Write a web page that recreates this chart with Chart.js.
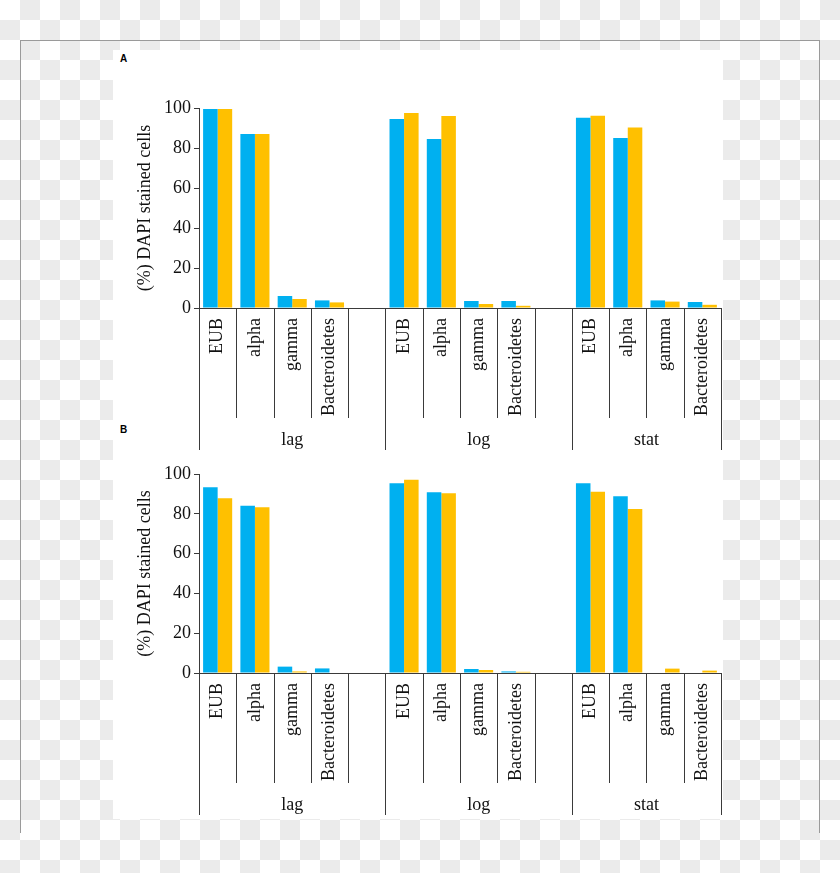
<!DOCTYPE html>
<html><head><meta charset="utf-8">
<script src="https://cdn.jsdelivr.net/npm/chart.js@4.4.1/dist/chart.umd.min.js"></script>
<style>
html,body{margin:0;padding:0;width:840px;height:873px;overflow:hidden;}
body{background-color:#fff;background-image:conic-gradient(#ebebeb 0 25%,#fff 0 50%,#ebebeb 0 75%,#fff 0);background-size:40px 40px;position:relative;}
#frame{position:absolute;left:20px;top:40px;width:798px;height:792px;border:1px solid #9a9a9a;border-bottom:none;}
#sheet{position:absolute;left:113px;top:50px;width:610px;height:769px;background:#fff;}
canvas{position:absolute;left:113px;}
.tag{position:absolute;font:bold 10px 'Liberation Sans',Arial,sans-serif;color:#000;}
</style></head>
<body>
<div id="frame"></div>
<div id="sheet"></div>
<div class="tag" style="left:120px;top:53px;">A</div>
<div class="tag" style="left:120px;top:424px;">B</div>
<canvas id="chartA" width="621" height="410" style="top:50px"></canvas>
<canvas id="chartB" width="621" height="400" style="top:420px"></canvas>
<script>
// ---- data ----
const groups = ['lag', 'log', 'stat'];
const taxa = ['EUB', 'alpha', 'gamma', 'Bacteroidetes'];
const yTicks = [0, 20, 40, 60, 80, 100];
const yTitle = '(%) DAPI stained cells';
// panel A (order: lag EUB, alpha, gamma, Bacteroidetes, log ..., stat ...)
const aBlue   = [99.5, 87.0, 6.0, 3.8, 94.5, 84.5, 3.5, 3.5, 95.1, 85.0, 3.8, 3.0];
const aYellow = [99.5, 87.0, 4.5, 2.8, 97.5, 96.0, 2.0, 1.1, 96.1, 90.3, 3.2, 1.6];
// panel B
const bBlue   = [93.3, 84.1, 3.2, 2.3, 95.3, 90.8, 2.0, 0.8, 95.3, 88.8, 0.0, 0.0];
const bYellow = [87.8, 83.3, 0.8, 0.0, 97.1, 90.3, 1.5, 0.6, 91.1, 82.4, 2.2, 1.2];

// ---- build category axis with blank separator slots ----
const categories = [];
const groupRanges = [];
groups.forEach((g, gi) => {
  const start = categories.length;
  taxa.forEach(t => categories.push(t));
  if (gi < groups.length - 1) categories.push('');
  groupRanges.push({label: g, start: start, end: categories.length - 1});
});
function expand(values) {
  const out = [];
  let k = 0;
  categories.forEach(c => { if (c === '') out.push(null); else out.push(values[k++]); });
  return out;
}

const AXIS = '#3a3a3a';
const TEXT = '#111';
const FONT = "'Liberation Serif','Times New Roman',serif";

const multiLevel = {
  id: 'multiLevel',
  afterDraw(chart) {
    const xs = chart.scales.x;
    const ctx = chart.ctx;
    const top = xs.top;
    const longStarts = new Set();
    groupRanges.forEach(r => { longStarts.add(r.start); });
    const lastEnd = categories.length;
    ctx.save();
    ctx.strokeStyle = AXIS;
    ctx.lineWidth = 1;
    for (let b = 0; b <= lastEnd; b++) {
      const px = Math.round(xs.getPixelForValue(b - 0.5)) + 0.5;
      const isLong = longStarts.has(b) || b === lastEnd;
      const len = isLong ? 142 : 110;
      ctx.beginPath();
      ctx.moveTo(px, top);
      ctx.lineTo(px, top + len);
      ctx.stroke();
    }
    ctx.fillStyle = TEXT;
    ctx.font = "18px " + FONT;
    ctx.textAlign = 'center';
    ctx.textBaseline = 'middle';
    groupRanges.forEach(r => {
      const x0 = xs.getPixelForValue(r.start - 0.5);
      const x1 = xs.getPixelForValue(r.end + 0.5);
      ctx.fillText(r.label, (x0 + x1) / 2, top + 132);
    });
    ctx.restore();
  }
};

function makeChart(id, blue, yellow, padTop, xHeight) {
  return new Chart(document.getElementById(id), {
    type: 'bar',
    data: {
      labels: categories,
      datasets: [
        {label: 'series 1', data: expand(blue), backgroundColor: '#00B0F0', borderWidth: 0,
         categoryPercentage: 0.78, barPercentage: 1.0},
        {label: 'series 2', data: expand(yellow), backgroundColor: '#FFC000', borderWidth: 0,
         categoryPercentage: 0.78, barPercentage: 1.0}
      ]
    },
    options: {
      responsive: false,
      animation: false,
      devicePixelRatio: 1,
      layout: {padding: {left: 0, right: 2, top: padTop, bottom: 0}},
      plugins: {legend: {display: false}, tooltip: {enabled: false}, title: {display: false}},
      scales: {
        x: {
          type: 'category',
          offset: true,
          grid: {display: false, drawTicks: false},
          border: {display: true, color: AXIS, width: 1},
          ticks: {autoSkip: false, minRotation: 90, maxRotation: 90, padding: 10,
                  color: TEXT, font: {family: FONT, size: 18}},
          afterFit(scale) { scale.height = xHeight; }
        },
        y: {
          min: 0, max: 100,
          afterBuildTicks(scale) { scale.ticks = yTicks.map(v => ({value: v})); },
          grid: {drawOnChartArea: false, drawTicks: true, tickLength: 5, color: AXIS},
          border: {display: true, color: AXIS, width: 1},
          ticks: {padding: 3, color: TEXT, font: {family: FONT, size: 18}},
          title: {display: true, text: yTitle, color: TEXT, font: {family: FONT, size: 18},
                  padding: {top: 21, bottom: 0}},
          afterFit(scale) { scale.width = 86; }
        }
      }
    },
    plugins: [multiLevel]
  });
}

makeChart('chartA', aBlue, aYellow, 58, 152);
makeChart('chartB', bBlue, bYellow, 54, 147);
</script>
</body></html>
